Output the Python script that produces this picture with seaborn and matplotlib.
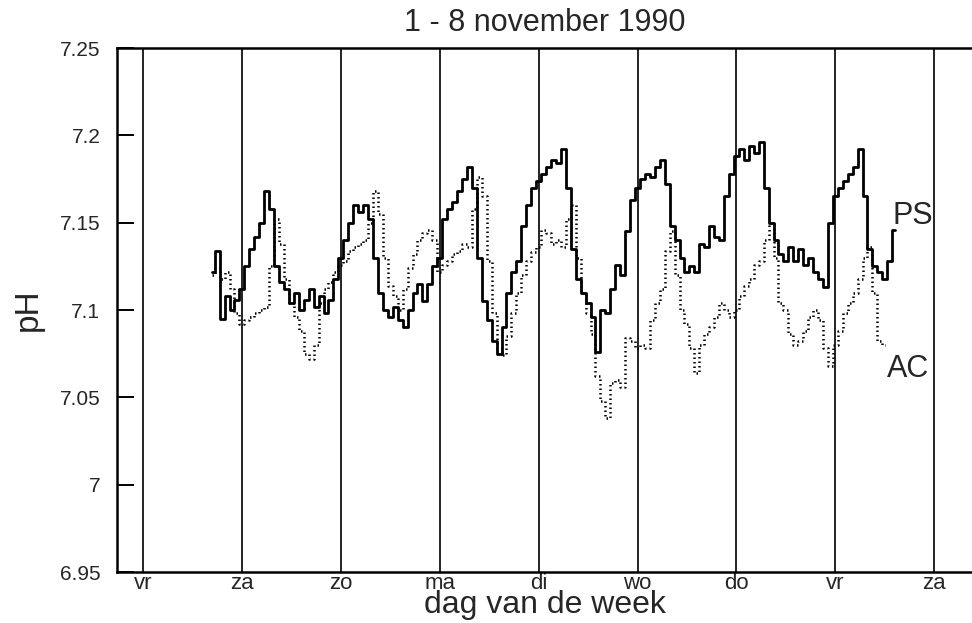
import numpy as np
import pandas as pd
import matplotlib
matplotlib.use("Agg")
import matplotlib.pyplot as plt
import seaborn as sns

# Day labels at midnight boundaries (day 0 = Friday 2 November)
day_labels = ["vr", "za", "zo", "ma", "di", "wo", "do", "vr", "za"]
y_ticks = [6.95, 7.0, 7.05, 7.1, 7.15, 7.2, 7.25]
y_tick_labels = ["6.95", "7", "7.05", "7.1", "7.15", "7.2", "7.25"]

# Sampling: every 0.05 day (72 min), starting at day 0.70
t_start = 0.70
t_step = 0.05

ph_ps = [
    7.122, 7.134, 7.095, 7.108, 7.100, 7.106, 7.112, 7.125, 7.135, 7.142,
    7.150, 7.168, 7.158, 7.125, 7.116, 7.112, 7.104, 7.110, 7.100, 7.106,
    7.112, 7.102, 7.108, 7.098, 7.106, 7.118, 7.130, 7.140, 7.150, 7.160,
    7.156, 7.160, 7.152, 7.130, 7.110, 7.100, 7.096, 7.102, 7.094, 7.090,
    7.100, 7.110, 7.115, 7.105, 7.115, 7.125, 7.130, 7.152, 7.158, 7.162,
    7.168, 7.175, 7.182, 7.170, 7.130, 7.105, 7.094, 7.082, 7.075, 7.090,
    7.110, 7.122, 7.128, 7.148, 7.160, 7.170, 7.174, 7.178, 7.182, 7.186,
    7.184, 7.192, 7.170, 7.135, 7.118, 7.110, 7.104, 7.096, 7.076, 7.100,
    7.098, 7.112, 7.126, 7.120, 7.145, 7.163, 7.170, 7.175, 7.178, 7.176,
    7.182, 7.186, 7.172, 7.148, 7.140, 7.130, 7.122, 7.125, 7.122, 7.138,
    7.136, 7.148, 7.142, 7.140, 7.165, 7.178, 7.188, 7.192, 7.186, 7.194,
    7.190, 7.196, 7.170, 7.150, 7.140, 7.132, 7.128, 7.136, 7.128, 7.135,
    7.126, 7.130, 7.122, 7.118, 7.113, 7.150, 7.165, 7.170, 7.174, 7.178,
    7.182, 7.192, 7.165, 7.135, 7.125, 7.122, 7.118, 7.128, 7.146,
]

ph_ac = [
    7.120, 7.124, 7.118, 7.122, 7.112, 7.098, 7.092, 7.094, 7.096, 7.098,
    7.100, 7.102, 7.125, 7.152, 7.138, 7.118, 7.104, 7.096, 7.088, 7.075,
    7.072, 7.080, 7.104, 7.112, 7.116, 7.122, 7.126, 7.128, 7.134, 7.136,
    7.138, 7.140, 7.150, 7.168, 7.155, 7.130, 7.114, 7.108, 7.100, 7.112,
    7.124, 7.132, 7.140, 7.144, 7.146, 7.140, 7.122, 7.126, 7.128, 7.132,
    7.134, 7.138, 7.136, 7.158, 7.176, 7.165, 7.128, 7.098, 7.078, 7.074,
    7.085, 7.098, 7.110, 7.120, 7.128, 7.133, 7.136, 7.146, 7.144, 7.138,
    7.140, 7.136, 7.152, 7.160, 7.130, 7.110, 7.098, 7.086, 7.062, 7.048,
    7.038, 7.058, 7.060, 7.056, 7.084, 7.082, 7.078, 7.080, 7.078, 7.094,
    7.104, 7.112, 7.134, 7.145, 7.120, 7.100, 7.092, 7.078, 7.064, 7.080,
    7.086, 7.090, 7.096, 7.104, 7.100, 7.096, 7.100, 7.108, 7.114, 7.118,
    7.126, 7.128, 7.140, 7.150, 7.130, 7.104, 7.100, 7.086, 7.080, 7.082,
    7.088, 7.096, 7.100, 7.094, 7.078, 7.068, 7.080, 7.088, 7.098, 7.104,
    7.110, 7.118, 7.130, 7.136, 7.110, 7.082, 7.080,
]

t_ps = t_start + t_step * np.arange(len(ph_ps))
t_ac = t_start + t_step * np.arange(len(ph_ac))
df_ps = pd.DataFrame({"dag": t_ps, "pH": ph_ps})
df_ac = pd.DataFrame({"dag": t_ac, "pH": ph_ac})

sns.set_style("white")
plt.rcParams["font.family"] = ["Liberation Sans", "DejaVu Sans"]

fig = plt.figure(figsize=(9.72, 6.23), dpi=100)
ax = fig.add_axes([117 / 972, 51 / 623, 1 - 117 / 972, 524 / 623])

# Day boundaries
for d in range(len(day_labels)):
    ax.axvline(d, color="#222222", lw=1.4, zorder=1)

sns.lineplot(data=df_ac, x="dag", y="pH", ax=ax, color="black",
             lw=1.8, linestyle=(0, (0.6, 1.2)), drawstyle="steps-mid",
             zorder=3, estimator=None)
sns.lineplot(data=df_ps, x="dag", y="pH", ax=ax, color="black",
             lw=2.0, drawstyle="steps-mid", zorder=4, estimator=None)

ax.text(7.78, 7.154, "PS", fontsize=22, ha="center", va="center")
ax.text(7.74, 7.066, "AC", fontsize=22, ha="center", va="center")

ax.set_xlim(-0.263, 8.382)
ax.set_ylim(6.95, 7.25)
ax.set_xticks(range(len(day_labels)))
ax.set_xticklabels(day_labels, fontsize=16)
ax.tick_params(axis="x", length=0, pad=1)
ax.set_yticks(y_ticks)
ax.set_yticklabels(y_tick_labels, fontsize=15)
ax.tick_params(axis="y", direction="in", length=12, width=1.4, pad=12,
               left=True, color="black")

ax.set_xlabel("dag van de week", fontsize=23)
ax.xaxis.set_label_coords(0.5, -0.034)
ax.set_ylabel("pH", fontsize=24)
ax.yaxis.set_label_coords(-0.086, 0.5)
ax.set_title("1 - 8 november 1990", fontsize=22, pad=12)

for side in ["top", "bottom", "left"]:
    ax.spines[side].set_color("black")
    ax.spines[side].set_linewidth(1.8)
ax.spines["right"].set_visible(False)

fig.savefig("out.png", dpi=100)
